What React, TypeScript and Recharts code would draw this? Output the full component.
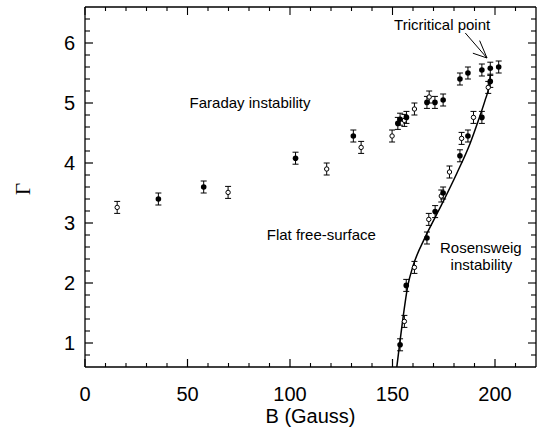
import React from 'react';
import {
  ComposedChart,
  XAxis,
  YAxis,
  Scatter,
  Line,
  ErrorBar,
  ReferenceDot,
  ReferenceLine,
} from 'recharts';

// ---- data (B in Gauss, Γ) ----
const FILLED_B = [35.8, 57.9, 102.7, 130.9, 152.6, 153.7, 156.8, 166.8, 170.7, 174.7, 182.9, 186.8, 193.6, 197.7, 201.8, 197.7, 193.6, 186.8, 182.9, 174.7, 170.8, 166.8, 156.7, 153.7];
const FILLED_G = [3.40, 3.60, 4.08, 4.45, 4.66, 4.73, 4.76, 5.01, 5.01, 5.05, 5.40, 5.50, 5.55, 5.58, 5.60, 5.36, 4.76, 4.45, 4.12, 3.50, 3.19, 2.75, 1.96, 0.97];
const OPEN_B = [15.7, 69.8, 117.9, 134.7, 149.8, 155.8, 160.7, 167.9, 196.7, 189.5, 183.7, 177.8, 173.8, 167.7, 160.7, 155.8];
const OPEN_G = [3.26, 3.51, 3.90, 4.26, 4.45, 4.71, 4.90, 5.10, 5.26, 4.76, 4.41, 3.85, 3.45, 3.06, 2.26, 1.36];
const ERR = 0.1;
const CURVE_B = [152.1, 153.4, 154.9, 157.5, 159.9, 165.9, 172.4, 181.4, 187.9, 192.0, 195.3, 196.9, 197.8];
const CURVE_G = [0.6, 0.96, 1.36, 1.96, 2.27, 2.76, 3.2, 3.83, 4.33, 4.72, 5.06, 5.25, 5.48];

const X_MIN = 0;
const X_MAX = 220;
const Y_MIN = 0.6;
const Y_MAX = 6.6;
const X_MAJOR = [0, 50, 100, 150, 200];
const X_MINOR = [10, 20, 30, 40, 60, 70, 80, 90, 110, 120, 130, 140, 160, 170, 180, 190, 210];
const Y_MAJOR = [1, 2, 3, 4, 5, 6];
const Y_MINOR = [0.8, 1.2, 1.4, 1.6, 1.8, 2.2, 2.4, 2.6, 2.8, 3.2, 3.4, 3.6, 3.8, 4.2, 4.4, 4.6, 4.8, 5.2, 5.4, 5.6, 5.8, 6.2, 6.4];
const X_TITLE = 'B (Gauss)';
const Y_TITLE = 'Γ';

const ANNOTATIONS = [
  { text: 'Faraday instability', x: 80.5, y: 5.01 },
  { text: 'Flat free-surface', x: 115.3, y: 2.805 },
  { text: 'Rosensweig', x: 193.1, y: 2.593 },
  { text: 'instability', x: 193.4, y: 2.305 },
  { text: 'Tricritical point', x: 174.2, y: 6.305 },
];
const ARROW_TIP = { x: 196.1, y: 5.75 };
const ARROW_TAILS = [
  { x: 185.5, y: 6.167 },
  { x: 192.5, y: 6.04 },
  { x: 189.2, y: 5.83 },
];

// tick lengths expressed in data units (plot is 450px / 220 G wide, 360px / 6 units tall)
const X_PER_PX = (X_MAX - X_MIN) / 450;
const Y_PER_PX = (Y_MAX - Y_MIN) / 360;

const filledData = FILLED_B.map((b, i) => ({ x: b, y: FILLED_G[i], err: ERR }));
const openData = OPEN_B.map((b, i) => ({ x: b, y: OPEN_G[i], err: ERR }));
const curveData = CURVE_B.map((b, i) => ({ x: b, y: CURVE_G[i] }));

const FONT = '"Liberation Sans", Arial, Helvetica, sans-serif';
const INK = '#000';
const TICK_TEXT = { fontSize: 20, fontFamily: FONT, fill: INK };
const TICK_LINE = { stroke: INK, strokeWidth: 1.2 };
const AXIS_LINE = { stroke: INK, strokeWidth: 1.3 };

const XTitle = (props: any) => {
  const vb = props.viewBox;
  return (
    <text x={vb.x + vb.width / 2} y={vb.y + 56} textAnchor="middle" fontSize={20} fontFamily={FONT} fill={INK}>
      {X_TITLE}
    </text>
  );
};

const YTitle = (props: any) => {
  const vb = props.viewBox;
  const cy = vb.y + vb.height / 2 + 2;
  return (
    <text
      transform={`translate(30,${cy}) rotate(-90)`}
      textAnchor="middle"
      fontSize={21}
      fontFamily='"Liberation Serif", "Times New Roman", serif'
      fill={INK}
    >
      {Y_TITLE}
    </text>
  );
};

const FilledDot = (props: any) => <circle cx={props.cx} cy={props.cy} r={2.8} fill={INK} />;
const OpenDot = (props: any) => (
  <circle cx={props.cx} cy={props.cy} r={2.2} fill="#fff" stroke={INK} strokeWidth={1} />
);

// inward tick marks (minor everywhere, majors on the mirrored top/right sides)
const tickSegments: { key: string; seg: { x: number; y: number }[] }[] = [];
X_MAJOR.concat(X_MINOR).forEach((v) => {
  const major = X_MAJOR.includes(v);
  const len = (major ? 8 : 4) * Y_PER_PX;
  if (!major) tickSegments.push({ key: 'xb' + v, seg: [{ x: v, y: Y_MIN }, { x: v, y: Y_MIN + len }] });
  tickSegments.push({ key: 'xt' + v, seg: [{ x: v, y: Y_MAX }, { x: v, y: Y_MAX - len }] });
});
Y_MAJOR.concat(Y_MINOR).forEach((v) => {
  const major = Y_MAJOR.includes(v);
  const len = (major ? 8 : 5) * X_PER_PX;
  if (!major) tickSegments.push({ key: 'yl' + v, seg: [{ x: X_MIN, y: v }, { x: X_MIN + len, y: v }] });
  tickSegments.push({ key: 'yr' + v, seg: [{ x: X_MAX, y: v }, { x: X_MAX - len, y: v }] });
});

export default function App() {
  return (
    <div style={{ position: 'absolute', left: 0, top: 0, width: 539, height: 430, background: '#fff' }}>
      <ComposedChart width={539} height={430} margin={{ top: 7, right: 3, bottom: 0, left: 0 }}>
        <XAxis
          dataKey="x"
          type="number"
          domain={[X_MIN, X_MAX]}
          allowDataOverflow
          ticks={X_MAJOR}
          interval={0}
          tick={TICK_TEXT}
          tickLine={TICK_LINE}
          tickSize={-8}
          tickMargin={27.5}
          axisLine={AXIS_LINE}
          height={63}
          label={<XTitle />}
        />
        <YAxis
          dataKey="y"
          type="number"
          domain={[Y_MIN, Y_MAX]}
          allowDataOverflow
          ticks={Y_MAJOR}
          interval={0}
          tick={TICK_TEXT}
          tickLine={TICK_LINE}
          tickSize={-8}
          tickMargin={18}
          axisLine={AXIS_LINE}
          width={85}
          label={<YTitle />}
        />
        {/* top and right frame */}
        <ReferenceLine y={Y_MAX} stroke={INK} strokeWidth={1.3} ifOverflow="visible" />
        <ReferenceLine x={X_MAX} stroke={INK} strokeWidth={1.3} ifOverflow="visible" />

        <Line
          data={curveData}
          dataKey="y"
          type="monotone"
          stroke={INK}
          strokeWidth={1.5}
          dot={false}
          activeDot={false}
          isAnimationActive={false}
        />
        <Scatter data={openData} dataKey="y" shape={<OpenDot />} isAnimationActive={false}>
          <ErrorBar dataKey="err" direction="y" width={3} stroke={INK} strokeWidth={1} />
        </Scatter>
        <Scatter data={filledData} dataKey="y" shape={<FilledDot />} isAnimationActive={false}>
          <ErrorBar dataKey="err" direction="y" width={3} stroke={INK} strokeWidth={1} />
        </Scatter>
        {ARROW_TAILS.map((t, i) => (
          <ReferenceLine key={'arrow' + i} segment={[t, ARROW_TIP]} stroke={INK} strokeWidth={1} />
        ))}
        {tickSegments.map((t) => (
          <ReferenceLine key={t.key} segment={t.seg} stroke={INK} strokeWidth={1.1} />
        ))}
        {ANNOTATIONS.map((a, i) => (
          <ReferenceDot
            key={'ann' + i}
            x={a.x}
            y={a.y}
            r={0}
            fill="none"
            stroke="none"
            label={{ value: a.text, position: 'center', fill: INK, fontSize: 15, fontFamily: FONT }}
          />
        ))}
      </ComposedChart>
    </div>
  );
}
